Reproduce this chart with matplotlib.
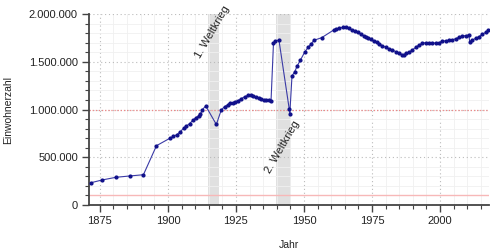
#!/usr/bin/env python3
"""
plot.py - Einwohnerentwicklung (population over time) with the two world wars shaded.

Run with:  python plot.py   -> writes out.png
"""
import matplotlib
matplotlib.use("Agg")  # headless
import matplotlib.pyplot as plt
from matplotlib.ticker import FuncFormatter, MultipleLocator

# ---------------------------------------------------------------------------
# data (fractional years = census dates)
# ---------------------------------------------------------------------------
YEARS = [
    1871.7, 1875.8, 1880.9, 1886.0, 1891.0, 1895.8, 1900.8, 1902.0, 1903.2,
    1904.3, 1905.8, 1906.8, 1908.0, 1909.1, 1910.3, 1911.3, 1911.9, 1912.7,
    1913.9, 1917.8, 1919.6, 1920.8, 1922.0, 1922.7, 1923.9, 1924.7, 1925.7,
    1926.7, 1928.2, 1929.4, 1930.4, 1931.2, 1932.4, 1933.4, 1934.3, 1935.2,
    1936.1, 1937.0, 1937.9, 1938.8, 1939.4, 1940.8, 1944.6, 1944.8, 1945.6,
    1946.6, 1947.5, 1948.7, 1950.3, 1951.5, 1952.7, 1953.7, 1956.5, 1960.9,
    1961.8, 1963.0, 1964.2, 1965.4, 1966.4, 1967.6, 1968.7, 1969.7, 1970.9,
    1971.9, 1972.8, 1973.7, 1974.6, 1975.8, 1976.7, 1977.6, 1978.7, 1980.0,
    1981.3, 1982.5, 1983.8, 1985.0, 1986.2, 1986.8, 1987.4, 1988.6, 1989.8,
    1991.1, 1992.3, 1993.5, 1994.7, 1995.9, 1997.2, 1998.4, 1999.6, 2000.8,
    2002.1, 2003.3, 2004.5, 2005.8, 2007.0, 2008.2, 2009.4, 2010.6, 2010.9,
    2011.9, 2013.1, 2014.3, 2015.5, 2016.8, 2017.7,
]
POPULATION = [
    233000, 262000, 290000, 304000, 317000, 621000, 700000, 719000, 735000,
    760000, 805000, 826000, 853000, 885000, 915000, 935000, 950000, 1000000,
    1037000, 843000, 995000, 1030000, 1050000, 1071000, 1071000, 1082000, 1092000,
    1110000, 1134000, 1148000, 1148000, 1141000, 1127000, 1124000, 1113000, 1103000,
    1096000, 1096000, 1092000, 1697000, 1716000, 1728000, 1002000, 956000, 1351000,
    1396000, 1455000, 1518000, 1602000, 1650000, 1690000, 1725000, 1752000, 1832000,
    1843000, 1853000, 1860000, 1860000, 1850000, 1832000, 1822000, 1808000, 1787000,
    1773000, 1762000, 1748000, 1735000, 1717000, 1704000, 1689000, 1670000, 1652000,
    1637000, 1623000, 1605000, 1588000, 1574000, 1567000, 1588000, 1599000, 1623000,
    1651000, 1675000, 1693000, 1700000, 1700000, 1700000, 1693000, 1700000, 1714000,
    1720000, 1725000, 1728000, 1742000, 1756000, 1770000, 1773000, 1780000, 1710000,
    1728000, 1745000, 1762000, 1787000, 1808000, 1828000,
]

WAR_LABELS = ["1. Weltkrieg", "2. Weltkrieg"]
WAR_SPANS = [(1914.57, 1918.86), (1939.67, 1945.35)]
WAR_LABEL_POS = [(1916.4, 1810000), (1942.2, 610000)]

THRESHOLDS = [100000, 1000000]  # Großstadt / Millionenstadt


def german_thousands(v, _pos):
    return f"{int(v):,}".replace(",", ".")


def draw(path: str) -> None:
    plt.rcParams["font.family"] = ["Liberation Sans", "DejaVu Sans"]
    fig = plt.figure(figsize=(5, 2.5), dpi=100)
    ax = fig.add_axes([0.178, 0.18, 0.8, 0.764])

    # shaded war periods + rotated labels
    for (x0, x1), label, (lx, ly) in zip(WAR_SPANS, WAR_LABELS, WAR_LABEL_POS):
        ax.axvspan(x0, x1, color="#e0e0e0", lw=0, zorder=0)
        ax.text(lx, ly, label, rotation=60, ha="center", va="center",
                fontsize=8, color="#222222", zorder=5)

    # threshold lines
    ax.axhline(THRESHOLDS[0], color="#f7b8b8", lw=1.0, zorder=1)
    ax.axhline(THRESHOLDS[1], color="#ee8888", lw=0.9, ls=(0, (1, 1.5)), zorder=1)

    ax.plot(YEARS, POPULATION, color="#3a3aa6", lw=0.8, marker="o", ms=2.0,
            mfc="#10108a", mec="#10108a", zorder=4)

    ax.set_xlim(1871, 2018)
    ax.set_ylim(0, 2000000)
    ax.xaxis.set_major_locator(MultipleLocator(25))
    ax.xaxis.set_minor_locator(MultipleLocator(5))
    ax.yaxis.set_major_locator(MultipleLocator(500000))
    ax.yaxis.set_minor_locator(MultipleLocator(100000))
    ax.yaxis.set_major_formatter(FuncFormatter(german_thousands))

    ax.grid(which="minor", color="#f0f0f0", lw=0.6, zorder=0)
    ax.grid(which="major", color="#bbbbbb", lw=0.8, ls=(0, (1, 2.5)), zorder=0)
    ax.set_axisbelow(True)

    for side in ("top", "right"):
        ax.spines[side].set_visible(False)
    for side in ("left", "bottom"):
        ax.spines[side].set_color("#444444")
        ax.spines[side].set_linewidth(1.3)
    ax.tick_params(which="major", direction="out", length=5, width=1,
                   color="#444444", labelsize=8, labelcolor="#222222", pad=3)
    ax.tick_params(which="minor", direction="out", length=3, width=0.8,
                   color="#444444")

    ax.set_xlabel("Jahr", fontsize=7.5, color="#222222")
    ax.set_ylabel("Einwohnerzahl", fontsize=7.5, color="#222222")
    ax.xaxis.set_label_coords(0.5, -0.183)
    ax.yaxis.set_label_coords(-0.19, 0.5)

    fig.savefig(path, dpi=100)
    plt.close(fig)


def main() -> None:
    draw("out.png")


if __name__ == "__main__":
    main()
